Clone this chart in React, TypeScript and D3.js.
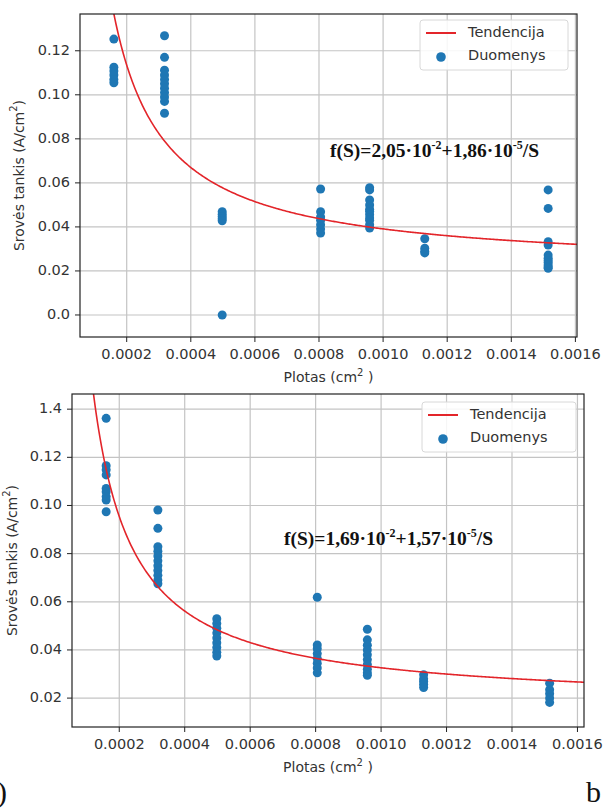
import React from "react";
import * as d3 from "d3";

// ---- data ----
const areas = [0.00016, 0.000318, 0.000498, 0.000805, 0.000958, 0.00113, 0.001515];

const topValues: number[][] = [
  [0.1253, 0.1125, 0.1108, 0.109, 0.107, 0.1055],
  [0.1268, 0.117, 0.1112, 0.109, 0.107, 0.105, 0.103, 0.101, 0.099, 0.097, 0.0916],
  [0.0469, 0.0458, 0.0447, 0.0437, 0.0428, 0.0],
  [0.0572, 0.0469, 0.0445, 0.043, 0.041, 0.039, 0.0372],
  [0.0578, 0.0568, 0.0522, 0.05, 0.048, 0.047, 0.0455, 0.044, 0.043, 0.041, 0.0395],
  [0.0346, 0.0303, 0.029, 0.0282],
  [0.0568, 0.0484, 0.0333, 0.0318, 0.0272, 0.0258, 0.0248, 0.0238, 0.0227, 0.0218, 0.0212],
];

const bottomValues: number[][] = [
  [0.1362, 0.1165, 0.1148, 0.1127, 0.1071, 0.1057, 0.1037, 0.1023, 0.0974],
  [0.0981, 0.0905, 0.0829, 0.081, 0.079, 0.077, 0.075, 0.073, 0.071, 0.069, 0.0675],
  [0.053, 0.051, 0.049, 0.047, 0.045, 0.043, 0.041, 0.039, 0.0375],
  [0.0619, 0.0421, 0.0405, 0.0385, 0.0365, 0.0345, 0.0325, 0.0305],
  [0.0486, 0.0442, 0.042, 0.04, 0.038, 0.036, 0.034, 0.032, 0.0305, 0.0295],
  [0.0297, 0.028, 0.027, 0.0258, 0.0244],
  [0.0262, 0.0235, 0.0218, 0.02, 0.0182],
];

const xTickValues = [0.0002, 0.0004, 0.0006, 0.0008, 0.001, 0.0012, 0.0014, 0.0016];
const xTickLabels = ["0.0002", "0.0004", "0.0006", "0.0008", "0.0010", "0.0012", "0.0014", "0.0016"];
const topYTickValues = [0, 0.02, 0.04, 0.06, 0.08, 0.1, 0.12];
const topYTickLabels = ["0.0", "0.02", "0.04", "0.06", "0.08", "0.10", "0.12"];
const bottomYTickValues = [0.02, 0.04, 0.06, 0.08, 0.1, 0.12, 0.14];
const bottomYTickLabels = ["0.02", "0.04", "0.06", "0.08", "0.10", "0.12", "1.4"];

const topFit = { a: 0.0205, b: 1.86e-5 };
const bottomFit = { a: 0.0169, b: 1.57e-5 };
const topFormula = ["f(S)=2,05·10", "-2", "+1,86·10", "-5", "/S"];
const bottomFormula = ["f(S)=1,69·10", "-2", "+1,57·10", "-5", "/S"];

const legendLabels = ["Tendencija", "Duomenys"];
const xLabel = "Plotas (cm";
const yLabel = "Srovės tankis (A/cm";

const BLUE = "#1f77b4";
const RED = "#e3252a";
const GRID = "#c4c4c4";
const FONT = "DejaVu Sans, sans-serif";

type PanelProps = {
  left: number; right: number; top: number; bottom: number;
  xDomain: [number, number]; yDomain: [number, number];
  yTicks: number[]; yTickLabels: string[];
  values: number[][]; fit: { a: number; b: number };
  formula: string[]; formulaX: number; formulaY: number;
  legendX: number; legendY: number; legendW: number; legendH: number;
  yLabelX: number; id: string;
};

function Panel(p: PanelProps) {
  const x = d3.scaleLinear().domain(p.xDomain).range([p.left, p.right]);
  const y = d3.scaleLinear().domain(p.yDomain).range([p.bottom, p.top]);
  const sVals = d3.range(0, 401).map((i) => p.xDomain[0] + (p.xDomain[1] - p.xDomain[0]) * i / 400);
  const line = d3.line<number>().x((s) => x(s)).y((s) => y(p.fit.a + p.fit.b / s));
  const fs = 14.5;
  const midY = (p.top + p.bottom) / 2;
  const midX = (p.left + p.right) / 2;
  return (
    <g>
      <defs>
        <clipPath id={"clip" + p.id}>
          <rect x={p.left} y={p.top} width={p.right - p.left} height={p.bottom - p.top} />
        </clipPath>
      </defs>
      <rect x={p.left} y={p.top} width={p.right - p.left} height={p.bottom - p.top} fill="#fff" />
      {xTickValues.map((v) => (
        <line key={"gx" + v} x1={x(v)} x2={x(v)} y1={p.top} y2={p.bottom} stroke={GRID} strokeWidth={1.2} />
      ))}
      {p.yTicks.map((v) => (
        <line key={"gy" + v} x1={p.left} x2={p.right} y1={y(v)} y2={y(v)} stroke={GRID} strokeWidth={1.2} />
      ))}
      <g clipPath={`url(#clip${p.id})`}>
        {p.values.map((col, i) =>
          col.map((v, j) => <circle key={i + "-" + j} cx={x(areas[i])} cy={y(v)} r={4.5} fill={BLUE} />)
        )}
        <path d={line(sVals) || ""} fill="none" stroke={RED} strokeWidth={1.6} />
      </g>
      <rect x={p.left} y={p.top} width={p.right - p.left} height={p.bottom - p.top} fill="none" stroke="#222" strokeWidth={1.2} />
      {xTickValues.map((v, i) => (
        <g key={"tx" + v}>
          <line x1={x(v)} x2={x(v)} y1={p.bottom} y2={p.bottom + 5} stroke="#222" />
          <text x={x(v)} y={p.bottom + 18} fontSize={fs} fontFamily={FONT} fill="#333" textAnchor="middle" dominantBaseline="middle">
            {xTickLabels[i]}
          </text>
        </g>
      ))}
      {p.yTicks.map((v, i) => (
        <g key={"ty" + v}>
          <line x1={p.left - 5} x2={p.left} y1={y(v)} y2={y(v)} stroke="#222" />
          <text x={p.left - 10} y={y(v)} fontSize={fs} fontFamily={FONT} fill="#333" textAnchor="end" dominantBaseline="middle">
            {p.yTickLabels[i]}
          </text>
        </g>
      ))}
      <text x={midX} y={p.bottom + 45} fontSize={14} fontFamily={FONT} fill="#333" textAnchor="middle">
        {xLabel}
        <tspan fontSize={10} dy={-6}>2</tspan>
        <tspan dy={6}> )</tspan>
      </text>
      <text transform={`translate(${p.yLabelX},${midY}) rotate(-90)`} fontSize={14} fontFamily={FONT} fill="#333" textAnchor="middle" dominantBaseline="middle">
        {yLabel}
        <tspan fontSize={10} dy={-6}>2</tspan>
        <tspan dy={6}>)</tspan>
      </text>
      {/* formula */}
      <text x={p.formulaX} y={p.formulaY} fontSize={19.5} fontWeight="bold" fontFamily="Liberation Serif, Times New Roman, serif" fill="#111">
        {p.formula[0]}
        <tspan fontSize={12} dy={-8}>{p.formula[1]}</tspan>
        <tspan dy={8}>{p.formula[2]}</tspan>
        <tspan fontSize={12} dy={-8}>{p.formula[3]}</tspan>
        <tspan dy={8}>{p.formula[4]}</tspan>
      </text>
      {/* legend */}
      <rect x={p.legendX} y={p.legendY} width={p.legendW} height={p.legendH} rx={3} fill="#fff" fillOpacity={0.85} stroke="#d8d8d8" />
      <line x1={p.legendX + 6} x2={p.legendX + 36} y1={p.legendY + 13} y2={p.legendY + 13} stroke={RED} strokeWidth={2} />
      <text x={p.legendX + 48} y={p.legendY + 13} fontSize={fs} fontFamily={FONT} fill="#333" dominantBaseline="middle">{legendLabels[0]}</text>
      <circle cx={p.legendX + 21} cy={p.legendY + 37} r={4.8} fill={BLUE} />
      <text x={p.legendX + 48} y={p.legendY + 36} fontSize={fs} fontFamily={FONT} fill="#333" dominantBaseline="middle">{legendLabels[1]}</text>
    </g>
  );
}

export default function App() {
  return (
    <svg width={605} height={808} style={{ position: "absolute", left: 0, top: 0, background: "#fff" }}>
      <rect width={605} height={808} fill="#fff" />
      <Panel
        id="a"
        left={80} right={577} top={14} bottom={337}
        xDomain={[0.0000543, 0.001605]} yDomain={[-0.01, 0.1367]}
        yTicks={topYTickValues} yTickLabels={topYTickLabels}
        values={topValues} fit={topFit}
        formula={topFormula} formulaX={330} formulaY={157}
        legendX={420} legendY={20} legendW={148} legendH={50}
        yLabelX={20}
      />
      <Panel
        id="b"
        left={72} right={584} top={394} bottom={727}
        xDomain={[0.0000556, 0.00162]} yDomain={[0.008, 0.1463]}
        yTicks={bottomYTickValues} yTickLabels={bottomYTickLabels}
        values={bottomValues} fit={bottomFit}
        formula={bottomFormula} formulaX={284} formulaY={545}
        legendX={422} legendY={402} legendW={154} legendH={50}
        yLabelX={13}
      />
      <text x={-3} y={802} fontSize={30} fontFamily="Liberation Serif, serif" fill="#111">)</text>
      <text x={586} y={802} fontSize={30} fontFamily="Liberation Serif, serif" fill="#111">b</text>
    </svg>
  );
}
